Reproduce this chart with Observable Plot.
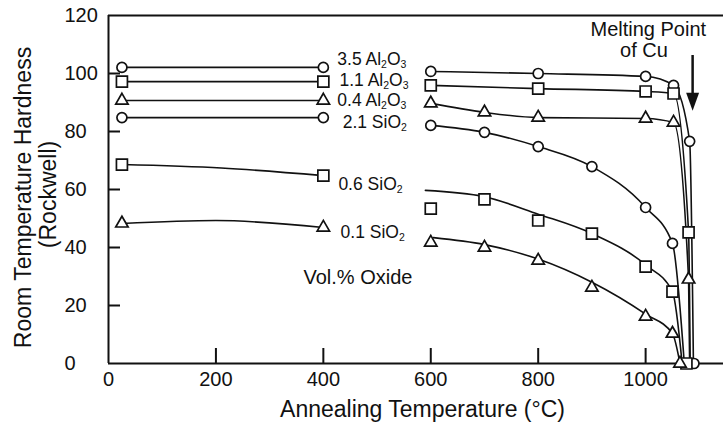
<!DOCTYPE html>
<html>
<head>
<meta charset="utf-8">
<script src="https://cdn.jsdelivr.net/npm/d3@7"></script>
<script src="https://cdn.jsdelivr.net/npm/@observablehq/plot@0.6"></script>
<style>
  html, body { margin: 0; padding: 0; background: #fff; }
  svg { display: block; }
</style>
</head>
<body>
<div id="chart"></div>
<script>
// ---------- data ----------
const xTicks = [0, 200, 400, 600, 800, 1000];
const yTicks = [0, 20, 40, 60, 80, 100, 120];
const xInnerTicks = [200, 400, 600, 800, 1000];
const yInnerTicks = [20, 40, 60, 80, 100];

const seriesNames = ["3.5 Al₂O₃", "1.1 Al₂O₃", "0.4 Al₂O₃", "2.1 SiO₂", "0.6 SiO₂", "0.1 SiO₂"];
const seriesSymbols = ["circle", "square", "triangle", "circle", "square", "triangle"];

// measured points: [annealing temperature °C, hardness Rockwell]
const al35Points = [[25, 102.1], [400, 102.1], [600, 100.7], [800, 100.0], [1000, 99.0], [1052, 95.9], [1082, 76.6]];
const al11Points = [[25, 97.2], [400, 97.2], [600, 95.9], [800, 94.8], [1000, 93.8], [1052, 93.1], [1080, 45.2]];
const al04Points = [[25, 90.7], [400, 90.7], [600, 89.7], [700, 86.6], [800, 84.8], [1000, 84.5], [1052, 83.1], [1080, 29.0]];
const si21Points = [[25, 84.8], [400, 84.8], [600, 82.1], [700, 79.7], [800, 74.8], [900, 67.9], [1000, 53.8], [1050, 41.4]];
const si06Points = [[25, 68.6], [400, 64.8], [600, 53.4], [700, 56.6], [800, 49.3], [900, 44.8], [1000, 33.4], [1050, 24.8]];
const si01Points = [[25, 48.3], [400, 46.9], [600, 41.7], [700, 40.0], [800, 35.5], [900, 26.2], [1000, 16.2], [1050, 10.3]];
// samples that melted (hardness 0)
const meltedPoints = [[1064, 0, "triangle"], [1076, 0, "square"], [1090, 0, "circle"]];

// fitted curves: [temperature, hardness, segment]
const al35Fit = [[25, 102.1, "a"], [400, 102.1, "a"], [600, 100.7, "b"], [800, 100.0, "b"], [1000, 99.0, "b"], [1052, 95.9, "b"], [1082, 76.6, "b"], [1089, 0, "b"]];
const al11Fit = [[25, 97.2, "a"], [400, 97.2, "a"], [600, 95.9, "b"], [800, 94.8, "b"], [1000, 93.8, "b"], [1052, 93.1, "b"], [1080, 45.2, "b"], [1083, 0, "b"]];
const al04Fit = [[25, 90.7, "a"], [400, 90.7, "a"], [600, 89.7, "b"], [700, 86.6, "b"], [800, 84.8, "b"], [1000, 84.5, "b"], [1052, 83.1, "b"], [1080, 29.0, "b"], [1082, 0, "b"]];
const si21Fit = [[25, 84.8, "a"], [400, 84.8, "a"], [600, 82.1, "b"], [700, 79.7, "b"], [800, 74.8, "b"], [900, 67.9, "b"], [1000, 53.8, "b"], [1050, 41.4, "b"], [1072, 0, "b"]];
const si06Fit = [[25, 68.6, "a"], [210, 67.4, "a"], [400, 64.8, "a"], [590, 59.7, "b"], [700, 57.5, "b"], [800, 51.5, "b"], [900, 44.8, "b"], [1000, 34.0, "b"], [1050, 24.8, "b"], [1068, 0, "b"]];
const si01Fit = [[25, 48.3, "a"], [200, 49.3, "a"], [400, 46.9, "a"], [605, 43.4, "b"], [700, 41.0, "b"], [800, 36.0, "b"], [900, 28.0, "b"], [1000, 17.0, "b"], [1050, 10.3, "b"], [1064, 0, "b"]];

const seriesPoints = [al35Points, al11Points, al04Points, si21Points, si06Points, si01Points];
const seriesFits = [al35Fit, al11Fit, al04Fit, si21Fit, si06Fit, si01Fit];

// annotation anchors (data units)
const labelTemps = [426, 430, 426, 436, 428, 432];
const labelHardness = [105.0, 97.6, 90.7, 83.3, 61.9, 45.3];

// ---------- build tables ----------
const markers = seriesPoints.flatMap((pts, i) =>
  pts.map(([t, h]) => ({t, h, symbol: seriesSymbols[i]})))
  .concat(meltedPoints.map(([t, h, s]) => ({t, h, symbol: s})));
const fits = seriesFits.flatMap((pts, i) =>
  pts.map(([t, h, seg]) => ({t, h, key: seriesNames[i] + seg})));
const labels = seriesNames.map((name, i) => ({name, t: labelTemps[i], h: labelHardness[i]}));

const arrowHead = {
  draw(ctx, size) {
    const r = Math.sqrt(size / Math.PI);
    ctx.moveTo(-0.72 * r, -r);
    ctx.lineTo(0.72 * r, -r);
    ctx.lineTo(0, r);
    ctx.closePath();
  }
};

const FONT = "'Liberation Sans', Arial, Helvetica, sans-serif";

const chart = Plot.plot({
  width: 723,
  height: 432,
  marginLeft: 108,
  marginRight: 0,
  marginTop: 15,
  marginBottom: 69,
  style: {fontFamily: FONT, background: "#fff", color: "#111"},
  x: {domain: [0, 1145], axis: null},
  y: {domain: [0, 120], axis: null},
  marks: [
    // frame lines
    Plot.ruleX([0], {stroke: "#111", strokeWidth: 2}),
    Plot.ruleY([0, 120], {stroke: "#111", strokeWidth: 2}),
    // inward ticks
    Plot.tickX(xInnerTicks, {x: d => d, insetTop: 333, stroke: "#111", strokeWidth: 2}),
    Plot.tickY(yInnerTicks, {y: d => d, insetRight: 603, stroke: "#111", strokeWidth: 2}),
    // tick labels
    Plot.text(xTicks, {x: d => d, text: d => String(d), frameAnchor: "bottom", dy: 22, fontSize: 20, fill: "#111"}),
    Plot.text(yTicks, {y: d => d, text: d => String(d), frameAnchor: "left", textAnchor: "start", dx: -44, fontSize: 20, fill: "#111"}),
    // axis titles
    Plot.text(["Annealing Temperature (°C)"], {frameAnchor: "bottom", textAnchor: "middle", dy: 53.6, dx: 6.5, fontSize: 23, fill: "#111"}),
    Plot.text(["Room Temperature Hardness"], {frameAnchor: "left", textAnchor: "middle", rotate: -90, dx: -85, dy: 8, fontSize: 23, fill: "#111"}),
    Plot.text(["(Rockwell)"], {frameAnchor: "left", textAnchor: "middle", rotate: -90, dx: -60, dy: 5, fontSize: 23, fill: "#111"}),
    // curves
    Plot.line(fits, {x: "t", y: "h", z: "key", curve: "monotone-x", stroke: "#111", strokeWidth: 1.6}),
    // markers
    Plot.dot(markers.filter(d => d.symbol === "circle"), {x: "t", y: "h", symbol: "circle", r: 5, fill: "white", stroke: "#111", strokeWidth: 1.7}),
    Plot.dot(markers.filter(d => d.symbol === "square"), {x: "t", y: "h", symbol: "square", r: 6.2, fill: "white", stroke: "#111", strokeWidth: 1.7}),
    Plot.dot(markers.filter(d => d.symbol === "triangle"), {x: "t", y: "h", symbol: "triangle", r: 4.6, fill: "white", stroke: "#111", strokeWidth: 1.7}),
    // series labels
    Plot.text(labels, {x: "t", y: "h", text: "name", textAnchor: "start", fontSize: 17.5, fill: "#111"}),
    Plot.text(["Vol.% Oxide"], {x: 363, y: 29.7, textAnchor: "start", fontSize: 20, fill: "#111"}),
    // melting point annotation
    Plot.text(["Melting Point"], {x: 1005, y: 115.2, fontSize: 20, fill: "#111"}),
    Plot.text(["of Cu"], {x: 997, y: 107.8, fontSize: 20, fill: "#111"}),
    Plot.ruleX([1087.5], {y1: 106.2, y2: 93.1, stroke: "#111", strokeWidth: 2.5}),
    Plot.dot([1087.5], {x: d => d, y: 90.3, symbol: arrowHead, r: 9, fill: "#111", stroke: "none"})
  ]
});

// render unicode subscripts as real subscript tspans
const SUB = /[\u2080-\u2089]+/;
d3.select(chart).selectAll("text").each(function () {
  if (this.querySelector("tspan")) return;
  const t = this.textContent;
  if (!SUB.test(t)) return;
  const parts = t.split(/([\u2080-\u2089]+)/);
  this.textContent = "";
  for (const p of parts) {
    if (!p) continue;
    const ts = document.createElementNS("http://www.w3.org/2000/svg", "tspan");
    if (SUB.test(p)) {
      ts.textContent = p.replace(/[\u2080-\u2089]/g, c => String.fromCharCode(c.charCodeAt(0) - 0x2080 + 48));
      ts.setAttribute("font-size", "60%");
      ts.setAttribute("baseline-shift", "-30%");
    } else {
      ts.textContent = p;
    }
    this.appendChild(ts);
  }
});

document.getElementById("chart").appendChild(chart);
</script>
</body>
</html>
